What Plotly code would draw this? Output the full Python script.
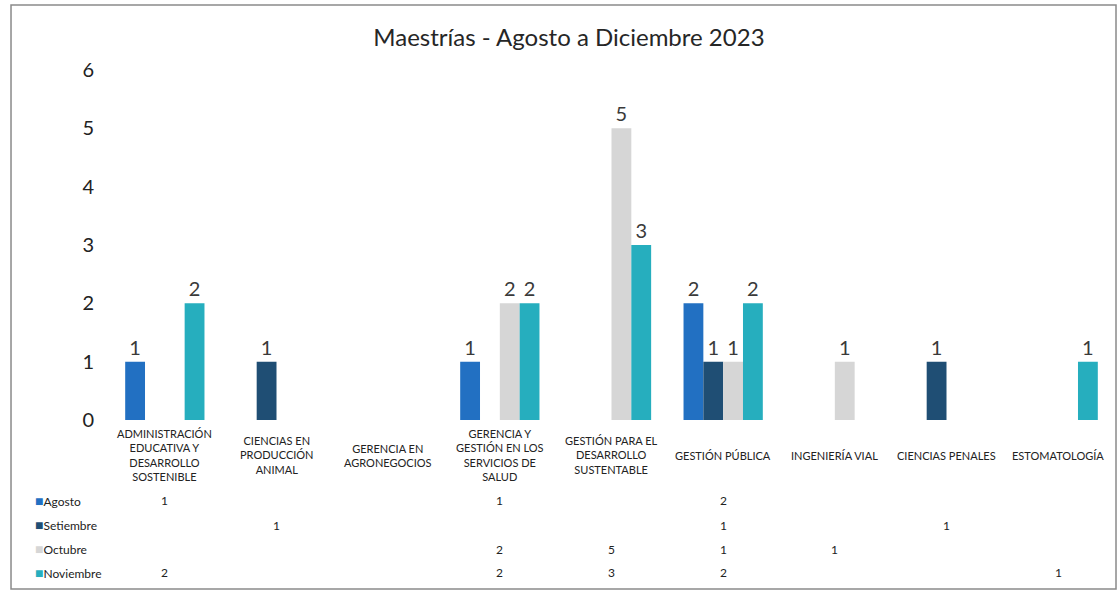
import plotly.graph_objects as go

categories = [
    "ADMINISTRACIÓN<br>EDUCATIVA Y<br>DESARROLLO<br>SOSTENIBLE",
    "CIENCIAS EN<br>PRODUCCIÓN<br>ANIMAL",
    "GERENCIA EN<br>AGRONEGOCIOS",
    "GERENCIA Y<br>GESTIÓN EN LOS<br>SERVICIOS DE<br>SALUD",
    "GESTIÓN PARA EL<br>DESARROLLO<br>SUSTENTABLE",
    "GESTIÓN PÚBLICA",
    "INGENIERÍA VIAL",
    "CIENCIAS PENALES",
    "ESTOMATOLOGÍA",
]
series_names = ["Agosto", "Setiembre", "Octubre", "Noviembre"]
agosto = [1, None, None, 1, None, 2, None, None, None]
setiembre = [None, 1, None, None, None, 1, None, 1, None]
octubre = [None, None, None, 2, 5, 1, 1, None, None]
noviembre = [2, None, None, 2, 3, 2, None, None, 1]
colors = ["#2270C2", "#1F4E74", "#D6D6D6", "#26AEBE"]
y_ticks = [0, 1, 2, 3, 4, 5, 6]

FONT = "Lato"
series = [agosto, setiembre, octubre, noviembre]
xs = list(range(len(categories)))

fig = go.Figure()
for name, vals, col in zip(series_names, series, colors):
    fig.add_trace(go.Bar(
        x=xs, y=vals, name=name, marker=dict(color=col, line=dict(width=0)),
        text=[str(v) if v is not None else "" for v in vals],
        textposition="outside", cliponaxis=False,
        textfont=dict(family=FONT, size=20, color="#3A3A3A"),
    ))

annotations = []
# category labels
for i, c in enumerate(categories):
    annotations.append(dict(x=i, xref="x", y=-0.1, yref="paper", text=c,
                            showarrow=False, xanchor="center", yanchor="middle",
                            font=dict(family=FONT, size=11, color="#222")))
# data table rows
row_y = [-0.2314, -0.3, -0.3686, -0.4371]
for name, vals, col, ry in zip(series_names, series, colors, row_y):
    annotations.append(dict(x=-0.0756, xref="paper", y=ry + 0.0015, yref="paper",
                            text=f"<span style='color:{col};font-size:14px'>■</span>{name}",
                            showarrow=False, xanchor="left", yanchor="middle",
                            font=dict(family=FONT, size=12, color="#222")))
    for i, v in enumerate(vals):
        if v is not None:
            annotations.append(dict(x=i, xref="x", y=ry, yref="paper", text=str(v),
                                    showarrow=False, xanchor="center", yanchor="middle",
                                    font=dict(family=FONT, size=12, color="#222")))

fig.update_layout(
    width=1120, height=592,
    margin=dict(l=109, r=6, t=70, b=172),
    paper_bgcolor="white", plot_bgcolor="white",
    barmode="group", bargap=0.29, bargroupgap=0,
    showlegend=False,
    title=dict(text="Maestrías - Agosto a Diciembre 2023", x=0.508, xanchor="center",
               y=1 - 38 / 592, yanchor="middle",
               font=dict(family=FONT, size=24, color="#262626")),
    xaxis=dict(range=[-0.5, len(categories) - 0.5], showticklabels=False,
               showgrid=False, zeroline=False, showline=False, ticks=""),
    yaxis=dict(range=[0, 6], tickvals=y_ticks, showgrid=False, zeroline=False,
               showline=False, ticks="", ticklabelstandoff=14,
               tickfont=dict(family=FONT, size=20, color="#222")),
    annotations=annotations,
    shapes=[dict(type="rect", xref="paper", yref="paper",
                 x0=-0.0975, x1=1.002, y0=-0.4829, y1=1.1857,
                 line=dict(color="#8A8A8A", width=1.5), layer="below")],
)

fig.write_html("out.html", config={"displayModeBar": False},
               post_script="document.body.style.margin='0';")
